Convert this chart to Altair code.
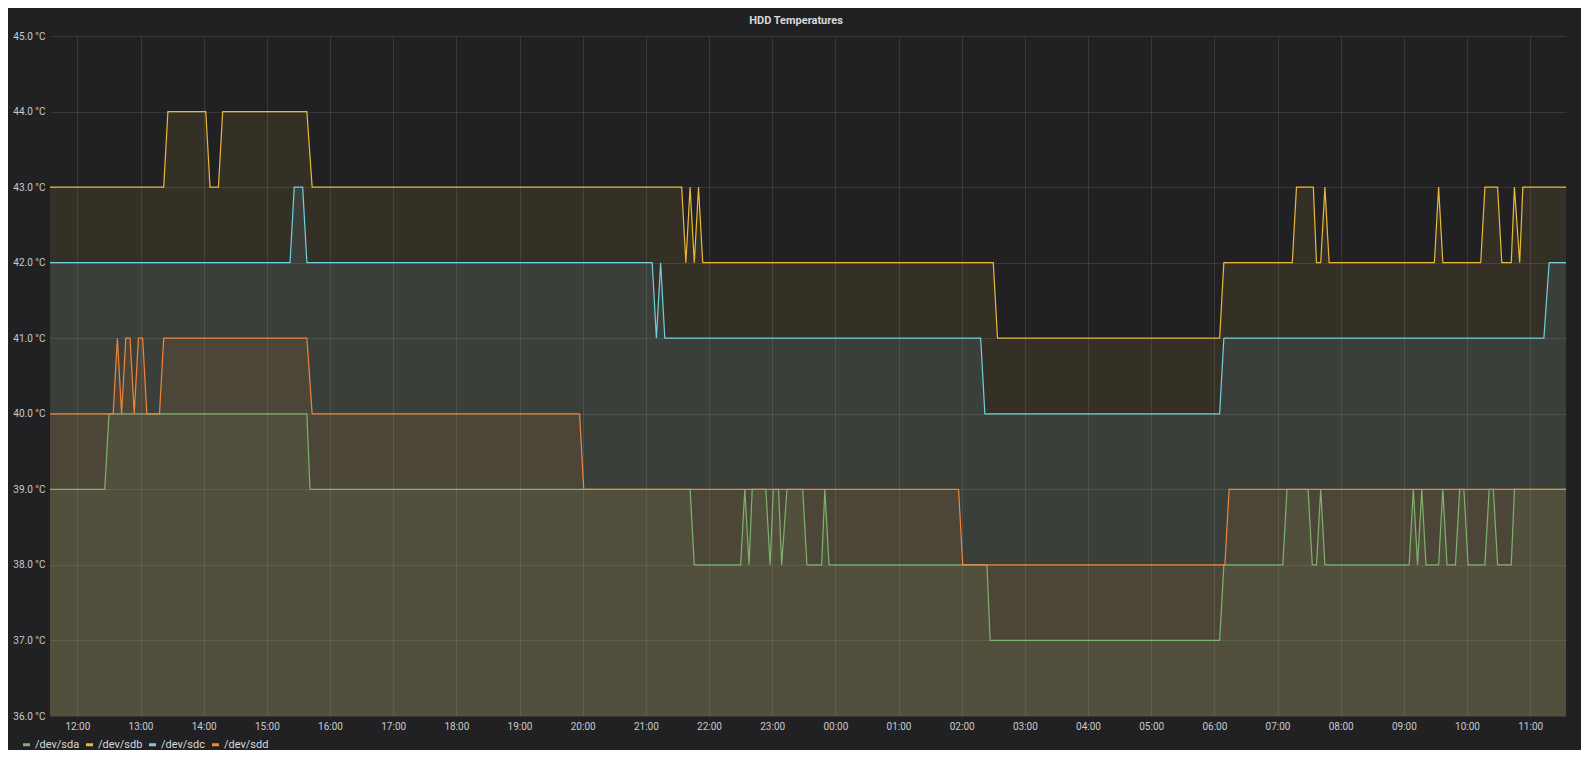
import altair as alt
import pandas as pd

# ---------------- data ----------------
SERIES = ["/dev/sda", "/dev/sdb", "/dev/sdc", "/dev/sdd"]
COLORS = ["#7EB26D", "#EAB839", "#6ED0E0", "#EF843C"]

DAY = "2019-05-01"
START = "11:34"          # left edge of the 24 h window

# change points: time (HH:MM) and temperature (°C); first value also holds from the left edge
sda_times = ["12:26", "12:30", "15:38", "15:41", "21:42", "21:46", "22:30", "22:34",
             "22:38", "22:41", "22:54", "22:58", "23:01", "23:06", "23:09", "23:14",
             "23:29", "23:33", "23:47", "23:50", "23:54", "02:24", "02:27", "06:05",
             "06:09", "07:05", "07:09", "07:29", "07:33", "07:37", "07:41", "07:45",
             "09:05", "09:09", "09:13", "09:17", "09:21", "09:33", "09:37", "09:41",
             "09:49", "09:53", "09:57", "10:01", "10:17", "10:21", "10:25", "10:29",
             "10:42", "10:45"]
sda_values = [39, 40, 40, 39, 39, 38, 38, 39,
              38, 39, 39, 38, 39, 39, 38, 39,
              39, 38, 38, 39, 38, 38, 37, 37,
              38, 38, 39, 39, 38, 38, 39, 38,
              38, 39, 38, 39, 38, 38, 39, 38,
              38, 39, 39, 38, 38, 39, 39, 38,
              38, 39]

sdb_times = ["13:22", "13:26", "14:02", "14:06", "14:14", "14:18", "15:38", "15:43",
             "21:34", "21:38", "21:42", "21:46", "21:50", "21:54", "02:30", "02:34",
             "06:05", "06:09", "07:14", "07:18", "07:34", "07:37", "07:41", "07:45",
             "07:49", "09:29", "09:33", "09:37", "10:13", "10:17", "10:29", "10:33",
             "10:42", "10:45", "10:50", "10:53"]
sdb_values = [43, 44, 44, 43, 43, 44, 44, 43,
              43, 42, 43, 42, 43, 42, 42, 41,
              41, 42, 42, 43, 43, 42, 42, 43,
              42, 42, 43, 42, 42, 43, 43, 42,
              42, 43, 42, 43]

sdc_times = ["15:22", "15:26", "15:34", "15:38", "21:06", "21:10", "21:14", "21:18",
             "02:18", "02:22", "06:05", "06:09", "11:13", "11:18"]
sdc_values = [42, 43, 43, 42, 42, 41, 42, 41,
              41, 40, 40, 41, 41, 42]

sdd_times = ["12:34", "12:38", "12:42", "12:46", "12:50", "12:54", "12:58", "13:02",
             "13:06", "13:18", "13:22", "15:38", "15:43", "19:57", "20:01", "01:57",
             "02:01", "06:10", "06:14"]
sdd_values = [40, 41, 40, 41, 41, 40, 41, 41,
              40, 40, 41, 41, 40, 40, 39, 39,
              38, 38, 39]

Y_TICKS = [36, 37, 38, 39, 40, 41, 42, 43, 44, 45]
X_TICK_HOURS = ["12:00", "13:00", "14:00", "15:00", "16:00", "17:00", "18:00", "19:00",
                "20:00", "21:00", "22:00", "23:00", "00:00", "01:00", "02:00", "03:00",
                "04:00", "05:00", "06:00", "07:00", "08:00", "09:00", "10:00", "11:00"]

# ---------------- build table ----------------
t0 = pd.Timestamp(f"{DAY} {START}")
t1 = t0 + pd.Timedelta(days=1)


def stamp(hhmm):
    t = pd.Timestamp(f"{DAY} {hhmm}")
    if hhmm < START:
        t += pd.Timedelta(days=1)
    return t


def dt(ts):
    return alt.DateTime(year=ts.year, month=ts.month, date=ts.day,
                        hours=ts.hour, minutes=ts.minute)


rows = []
for name, times, values in [(SERIES[0], sda_times, sda_values),
                            (SERIES[1], sdb_times, sdb_values),
                            (SERIES[2], sdc_times, sdc_values),
                            (SERIES[3], sdd_times, sdd_values)]:
    rows.append({"series": name, "time": t0, "temp": values[0]})
    for t, v in zip(times, values):
        rows.append({"series": name, "time": stamp(t), "temp": v})
    rows.append({"series": name, "time": t1, "temp": values[-1]})
df = pd.DataFrame(rows)
df["time"] = df["time"].dt.strftime("%Y-%m-%dT%H:%M:%S")

FONT = "Roboto"
TEXT = "#d8d9da"

x_enc = alt.X("time:T",
              scale=alt.Scale(nice=False),
              axis=alt.Axis(title=None, format="%H:%M",
                            values=[dt(stamp(h)) for h in X_TICK_HOURS],
                            labelPadding=5, labelFontSize=10))
y_enc = alt.Y("temp:Q",
              scale=alt.Scale(domain=[36, 45], nice=False, zero=False),
              axis=alt.Axis(title=None, values=Y_TICKS,
                            labelExpr="format(datum.value, '.1f') + ' °C'",
                            labelPadding=5, labelFontSize=10))
color_scale = alt.Scale(domain=SERIES, range=COLORS)

base = alt.Chart(df)

area = base.mark_area(fillOpacity=0.1, clip=True, interpolate="linear").encode(
    x=x_enc, y=y_enc, y2=alt.datum(36),
    color=alt.Color("series:N", scale=color_scale, legend=None),
)

line = base.mark_line(strokeWidth=1.2, clip=True, interpolate="linear").encode(
    x=x_enc, y=y_enc,
    color=alt.Color("series:N", scale=color_scale,
                    legend=alt.Legend(title=None, orient="none", legendX=-29, legendY=703,
                                      direction="horizontal", columns=4,
                                      symbolType="stroke", symbolStrokeWidth=3,
                                      symbolSize=49, labelFontSize=11, labelColor=TEXT,
                                      labelFont=FONT, columnPadding=0, labelOffset=3)),
)

chart = alt.layer(area, line).resolve_legend(color="independent").properties(
    width=1516, height=680,
    title=alt.Title("HDD Temperatures", fontSize=11, fontWeight="bold", color=TEXT,
                    font=FONT, anchor="middle", frame="group", dx=-12, offset=5),
    autosize=alt.AutoSizeParams(type="none"),
    padding={"left": 42, "top": 28, "right": 15, "bottom": 34},
).configure(background="#212124").configure_view(stroke=None).configure_axis(
    grid=True, gridColor="#ffffff", gridOpacity=0.1, domain=False, ticks=False,
    labelColor="#c8c9ca", labelFont=FONT, zindex=1,
)

chart.save("out.html", embed_options={"renderer": "svg", "actions": False})
